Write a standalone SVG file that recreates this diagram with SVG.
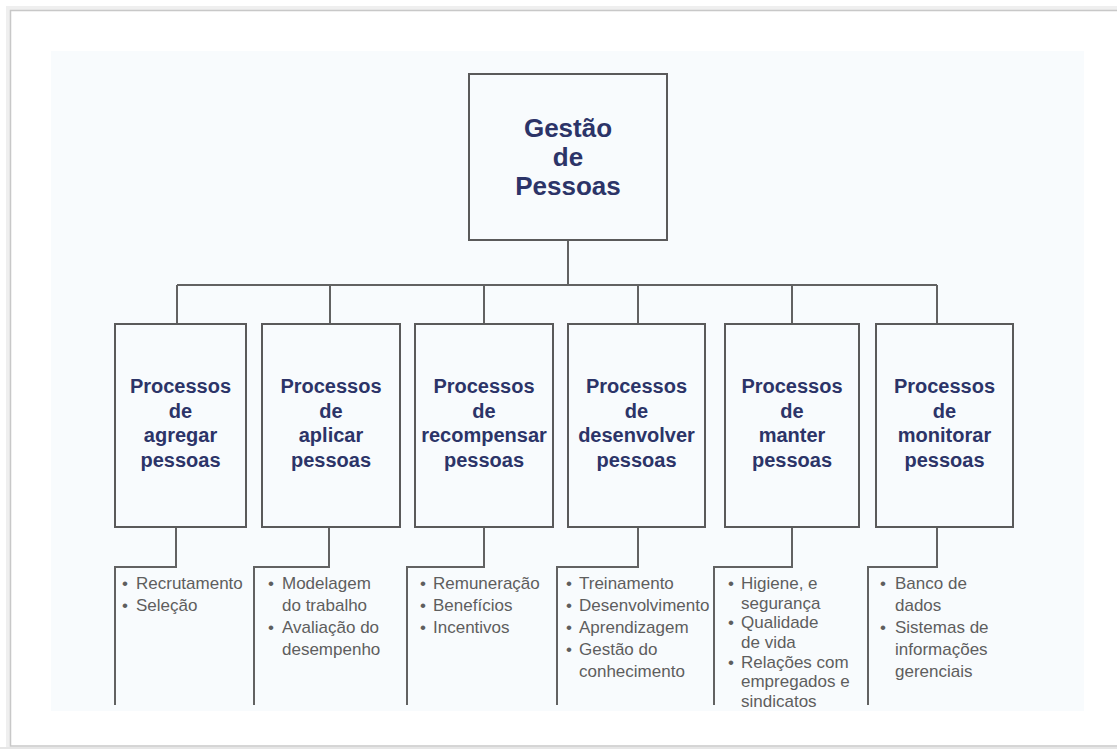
<svg xmlns="http://www.w3.org/2000/svg" width="1117" height="749" viewBox="0 0 1117 749">
<defs>
<style>
.box{fill:none;stroke:#5a5a5a;stroke-width:2}
.conn{fill:none;stroke:#626262;stroke-width:2}
.title{font-family:"Liberation Sans",Arial,sans-serif;font-weight:bold;fill:#2c3468;text-anchor:middle}
.t26{font-size:26px}
.t20{font-size:20px}
.item{font-family:"Liberation Sans",Arial,sans-serif;font-size:17px;fill:#5e5e5e}
</style>
</defs>
<rect x="0" y="0" width="1117" height="749" fill="#ffffff"/>
<rect x="8" y="8" width="1120" height="741" fill="none" stroke="#efefef" stroke-width="4"/>
<rect x="10.5" y="10.5" width="1120" height="735.5" fill="#ffffff" stroke="#c8c8c8" stroke-width="1.5"/>
<rect x="0" y="747" width="1117" height="2" fill="#e6e6e6"/>
<rect x="51" y="51" width="1033" height="660" fill="#f8fbfd"/>
<g id="connectors">
<path class="conn" d="M568 240V285M177 285H937M177 285V324M330 285V324M484 285V324M638 285V324M792 285V324M937 285V324"/>
<path class="conn" d="M176 527V567H115V705"/>
<path class="conn" d="M329 527V567H254V705"/>
<path class="conn" d="M484 527V567H407V705"/>
<path class="conn" d="M638 527V567H557V705"/>
<path class="conn" d="M792 527V567H714V705"/>
<path class="conn" d="M937 527V567H868V705"/>
</g>
<g id="gestao">
<rect class="box" x="469" y="74" width="198" height="166"/>
<text class="title t26"><tspan x="568" y="137">Gestão</tspan><tspan x="568" y="166">de</tspan><tspan x="568" y="195">Pessoas</tspan></text>
</g>
<g id="agregar">
<rect class="box" x="115" y="324" width="131" height="203"/>
<text class="title t20"><tspan x="180.5" y="393">Processos</tspan><tspan x="180.5" y="417.5">de</tspan><tspan x="180.5" y="442">agregar</tspan><tspan x="180.5" y="466.5">pessoas</tspan></text>
<text class="item"><tspan x="122" y="589">•</tspan><tspan x="136" y="589">Recrutamento</tspan><tspan x="122" y="611">•</tspan><tspan x="136" y="611">Seleção</tspan></text>
</g>
<g id="aplicar">
<rect class="box" x="262" y="324" width="138" height="203"/>
<text class="title t20"><tspan x="331" y="393">Processos</tspan><tspan x="331" y="417.5">de</tspan><tspan x="331" y="442">aplicar</tspan><tspan x="331" y="466.5">pessoas</tspan></text>
<text class="item"><tspan x="268" y="589">•</tspan><tspan x="282" y="589">Modelagem</tspan><tspan x="282" y="611">do trabalho</tspan><tspan x="268" y="633">•</tspan><tspan x="282" y="633">Avaliação do</tspan><tspan x="282" y="655">desempenho</tspan></text>
</g>
<g id="recompensar">
<rect class="box" x="415" y="324" width="138" height="203"/>
<text class="title t20"><tspan x="484" y="393">Processos</tspan><tspan x="484" y="417.5">de</tspan><tspan x="484" y="442">recompensar</tspan><tspan x="484" y="466.5">pessoas</tspan></text>
<text class="item"><tspan x="420" y="589">•</tspan><tspan x="433" y="589">Remuneração</tspan><tspan x="420" y="611">•</tspan><tspan x="433" y="611">Benefícios</tspan><tspan x="420" y="633">•</tspan><tspan x="433" y="633">Incentivos</tspan></text>
</g>
<g id="desenvolver">
<rect class="box" x="568" y="324" width="137" height="203"/>
<text class="title t20"><tspan x="636.5" y="393">Processos</tspan><tspan x="636.5" y="417.5">de</tspan><tspan x="636.5" y="442">desenvolver</tspan><tspan x="636.5" y="466.5">pessoas</tspan></text>
<text class="item"><tspan x="566" y="589">•</tspan><tspan x="579" y="589">Treinamento</tspan><tspan x="566" y="611">•</tspan><tspan x="579" y="611">Desenvolvimento</tspan><tspan x="566" y="633">•</tspan><tspan x="579" y="633">Aprendizagem</tspan><tspan x="566" y="655">•</tspan><tspan x="579" y="655">Gestão do</tspan><tspan x="579" y="677">conhecimento</tspan></text>
</g>
<g id="manter">
<rect class="box" x="725" y="324" width="134" height="203"/>
<text class="title t20"><tspan x="792" y="393">Processos</tspan><tspan x="792" y="417.5">de</tspan><tspan x="792" y="442">manter</tspan><tspan x="792" y="466.5">pessoas</tspan></text>
<text class="item"><tspan x="728" y="589">•</tspan><tspan x="741" y="589">Higiene, e</tspan><tspan x="741" y="608.7">segurança</tspan><tspan x="728" y="628.3">•</tspan><tspan x="741" y="628.3">Qualidade</tspan><tspan x="741" y="648">de vida</tspan><tspan x="728" y="667.6">•</tspan><tspan x="741" y="667.6">Relações com</tspan><tspan x="741" y="687.3">empregados e</tspan><tspan x="741" y="707">sindicatos</tspan></text>
</g>
<g id="monitorar">
<rect class="box" x="876" y="324" width="137" height="203"/>
<text class="title t20"><tspan x="944.5" y="393">Processos</tspan><tspan x="944.5" y="417.5">de</tspan><tspan x="944.5" y="442">monitorar</tspan><tspan x="944.5" y="466.5">pessoas</tspan></text>
<text class="item"><tspan x="880" y="589">•</tspan><tspan x="895" y="589">Banco de</tspan><tspan x="895" y="611">dados</tspan><tspan x="880" y="633">•</tspan><tspan x="895" y="633">Sistemas de</tspan><tspan x="895" y="655">informações</tspan><tspan x="895" y="677">gerenciais</tspan></text>
</g>
</svg>
